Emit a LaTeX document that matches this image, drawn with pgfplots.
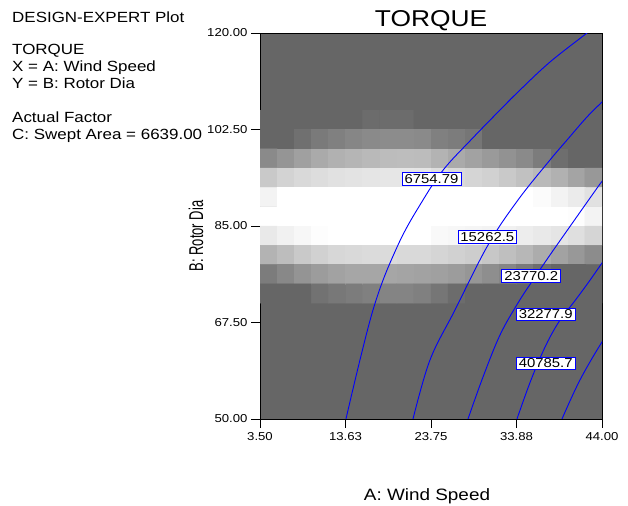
\documentclass[border=0pt]{standalone}
\usepackage{fontspec}
\setmainfont[FakeStretch=1.15]{Liberation Sans}
\newfontfamily\plainfont{Liberation Sans}
\usepackage{pgfplots}
\pgfplotsset{compat=1.18}
\definecolor{bgc}{RGB}{102,102,102}
\definecolor{cblue}{RGB}{0,0,255}
\begin{document}
\begin{tikzpicture}
\useasboundingbox (0,0) rectangle (628bp,506bp);
\begin{axis}[
  scale only axis, width=342bp, height=386bp,
  at={(260bp,87bp)}, anchor=south west,
  xmin=3.5, xmax=44, ymin=50, ymax=120,
  axis background/.style={fill=bgc},
  axis line style={black, line width=0.9bp},
  xtick={3.5,13.625,23.75,33.875,44},
  xticklabels={3.50,13.63,23.75,33.88,44.00},
  ytick={50,67.5,85,102.5,120},
  yticklabels={50.00,67.50,85.00,102.50,120.00},
  tick pos=left, tick align=outside,
  major tick length=9bp,
  tick style={black, line width=0.8bp},
  ticklabel style={font=\fontsize{11.5}{12}\selectfont},
  xticklabel style={yshift=-1bp},
  /pgf/number format/assume math mode=true,
  colormap={bw}{rgb255=(102,102,102) rgb255=(255,255,255)},
  point meta min=102, point meta max=255,
  clip=true,
]
\addplot[matrix plot*, mesh/cols=20, point meta=explicit] table[meta=c] {
x y c
4.5125 104.25 102
6.5375 104.25 102
8.5625 104.25 102
10.5875 104.25 102
12.6125 104.25 102
14.6375 104.25 102
16.6625 104.25 108
18.6875 104.25 108
20.7125 104.25 108
22.7375 104.25 102
24.7625 104.25 102
26.7875 104.25 102
28.8125 104.25 102
30.8375 104.25 102
32.8625 104.25 102
34.8875 104.25 102
36.9125 104.25 102
38.9375 104.25 102
40.9625 104.25 102
42.9875 104.25 102
4.5125 100.75 102
6.5375 100.75 102
8.5625 100.75 112
10.5875 100.75 122
12.6125 100.75 128
14.6375 100.75 134
16.6625 100.75 138
18.6875 100.75 140
20.7125 100.75 140
22.7375 100.75 138
24.7625 100.75 128
26.7875 100.75 124
28.8125 100.75 118
30.8375 100.75 102
32.8625 100.75 102
34.8875 100.75 102
36.9125 100.75 102
38.9375 100.75 102
40.9625 100.75 102
42.9875 100.75 102
4.5125 97.25 138
6.5375 97.25 149
8.5625 97.25 160
10.5875 97.25 170
12.6125 97.25 176
14.6375 97.25 180
16.6625 97.25 184
18.6875 97.25 187
20.7125 97.25 188
22.7375 97.25 187
24.7625 97.25 178
26.7875 97.25 170
28.8125 97.25 162
30.8375 97.25 154
32.8625 97.25 146
34.8875 97.25 138
36.9125 97.25 124
38.9375 97.25 110
40.9625 97.25 102
42.9875 97.25 102
4.5125 93.75 200
6.5375 93.75 210
8.5625 93.75 216
10.5875 93.75 220
12.6125 93.75 224
14.6375 93.75 226
16.6625 93.75 228
18.6875 93.75 229
20.7125 93.75 229
22.7375 93.75 228
24.7625 93.75 220
26.7875 93.75 216
28.8125 93.75 212
30.8375 93.75 208
32.8625 93.75 200
34.8875 93.75 192
36.9125 93.75 184
38.9375 93.75 176
40.9625 93.75 164
42.9875 93.75 152
4.5125 90.25 242
6.5375 90.25 255
8.5625 90.25 255
10.5875 90.25 255
12.6125 90.25 255
14.6375 90.25 255
16.6625 90.25 255
18.6875 90.25 255
20.7125 90.25 255
22.7375 90.25 255
24.7625 90.25 255
26.7875 90.25 255
28.8125 90.25 255
30.8375 90.25 255
32.8625 90.25 255
34.8875 90.25 254
36.9125 90.25 250
38.9375 90.25 242
40.9625 90.25 234
42.9875 90.25 224
4.5125 86.75 255
6.5375 86.75 255
8.5625 86.75 255
10.5875 86.75 255
12.6125 86.75 255
14.6375 86.75 255
16.6625 86.75 255
18.6875 86.75 255
20.7125 86.75 255
22.7375 86.75 255
24.7625 86.75 255
26.7875 86.75 255
28.8125 86.75 255
30.8375 86.75 255
32.8625 86.75 255
34.8875 86.75 255
36.9125 86.75 255
38.9375 86.75 255
40.9625 86.75 252
42.9875 86.75 242
4.5125 83.25 232
6.5375 83.25 240
8.5625 83.25 246
10.5875 83.25 252
12.6125 83.25 254
14.6375 83.25 254
16.6625 83.25 254
18.6875 83.25 254
20.7125 83.25 254
22.7375 83.25 254
24.7625 83.25 248
26.7875 83.25 246
28.8125 83.25 244
30.8375 83.25 242
32.8625 83.25 240
34.8875 83.25 236
36.9125 83.25 232
38.9375 83.25 228
40.9625 83.25 222
42.9875 83.25 212
4.5125 79.75 178
6.5375 79.75 188
8.5625 79.75 200
10.5875 79.75 208
12.6125 79.75 214
14.6375 79.75 216
16.6625 79.75 218
18.6875 79.75 218
20.7125 79.75 216
22.7375 79.75 216
24.7625 79.75 212
26.7875 79.75 208
28.8125 79.75 204
30.8375 79.75 198
32.8625 79.75 190
34.8875 79.75 182
36.9125 79.75 172
38.9375 79.75 162
40.9625 79.75 152
42.9875 79.75 140
4.5125 76.25 124
6.5375 76.25 136
8.5625 76.25 148
10.5875 76.25 156
12.6125 76.25 162
14.6375 76.25 166
16.6625 76.25 166
18.6875 76.25 166
20.7125 76.25 164
22.7375 76.25 162
24.7625 76.25 160
26.7875 76.25 156
28.8125 76.25 150
30.8375 76.25 142
32.8625 76.25 134
34.8875 76.25 122
36.9125 76.25 110
38.9375 76.25 102
40.9625 76.25 102
42.9875 76.25 102
4.5125 72.75 102
6.5375 72.75 102
8.5625 72.75 102
10.5875 72.75 114
12.6125 72.75 120
14.6375 72.75 124
16.6625 72.75 128
18.6875 72.75 132
20.7125 72.75 132
22.7375 72.75 128
24.7625 72.75 118
26.7875 72.75 108
28.8125 72.75 102
30.8375 72.75 102
32.8625 72.75 102
34.8875 72.75 102
36.9125 72.75 102
38.9375 72.75 102
40.9625 72.75 102
42.9875 72.75 102
};
% contour lines
\addplot[cblue, line width=0.9bp, smooth, tension=0.6] coordinates {
(13.68,50) (16.88,69.77) (19.84,81.55) (22.80,89.71) (25.29,95.34) (28.47,100.60) (31.57,105.49) (34.29,109.66) (37.84,114.74) (42.22,120) (43.5,121.6)};
\addplot[cblue, line width=0.9bp, smooth, tension=0.6] coordinates {
(21.62,50) (23.63,60.70) (26.59,69.77) (30.50,81.55) (34.05,89.71) (37.84,96.97) (39.86,100.60) (42.22,104.77) (44.0,107.49) (45,109)};
\addplot[cblue, line width=0.9bp, smooth, tension=0.6] coordinates {
(28.13,50) (29.91,57.62) (31.92,65.23) (34.05,71.04) (35.83,75.21) (37.84,79.74) (40.33,85.18) (43.17,91.35) (44.0,93.1) (45,95)};
\addplot[cblue, line width=0.9bp, smooth, tension=0.6] coordinates {
(33.93,50) (35.59,57.07) (37.37,63.42) (39.03,67.95) (40.68,71.22) (42.34,74.66) (44.0,78.29) (45,80.5)};
\addplot[cblue, line width=0.9bp, smooth, tension=0.6] coordinates {
(39.26,50) (41.39,57.07) (44.0,63.96) (45,65.6)};
% contour labels
\tikzset{clab/.style={draw=cblue, line width=0.8bp, fill=white, text=black, inner xsep=2.5bp, inner ysep=1.8bp, font=\fontsize{13}{13}\selectfont}}
\node[clab] at (axis cs:23.81,93.52) {6754.79};
\node[clab] at (axis cs:30.42,82.97) {15262.5};
\node[clab] at (axis cs:35.62,75.90) {23770.2};
\node[clab] at (axis cs:37.33,68.95) {32277.9};
\node[clab] at (axis cs:37.33,60.10) {40785.7};
\end{axis}
% side texts
\begin{scope}[every node/.style={anchor=base west, inner sep=0pt, font=\fontsize{14.8}{16}\selectfont}]
\node at (12bp,483bp) {DESIGN-EXPERT Plot};
\node at (12bp,451bp) {TORQUE};
\node at (12bp,434bp) {X = A: Wind Speed};
\node at (12bp,417bp) {Y = B: Rotor Dia};
\node at (12bp,383bp) {Actual Factor};
\node at (12bp,366bp) {C: Swept Area = 6639.00};
\end{scope}
\node[anchor=base, inner sep=0pt, font=\fontsize{23}{24}\selectfont] at (431bp,479bp) {TORQUE};
\node[anchor=base, inner sep=0pt, font=\fontsize{16.5}{17}\selectfont] at (427bp,6bp) {A: Wind Speed};
\node[rotate=90, anchor=base, inner sep=0pt] at (203bp,270bp) {\scalebox{0.65}[1]{\plainfont\fontsize{20}{20}\selectfont B: Rotor Dia}};
\end{tikzpicture}
\end{document}
